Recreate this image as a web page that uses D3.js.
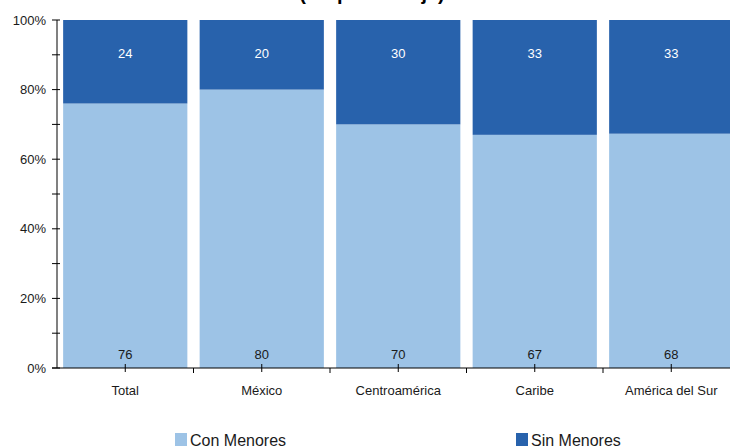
<!DOCTYPE html>
<html><head><meta charset="utf-8">
<script src="https://cdn.jsdelivr.net/npm/d3@7"></script>
<style>body{margin:0;background:#fff}svg{display:block;font-family:"Liberation Sans",Arial,sans-serif}</style>
</head><body>
<svg id="c" width="730" height="446"></svg>
<script>
const categories = ["Total","México","Centroamérica","Caribe","América del Sur"];
const conMenores = [76,80,70,67,68];
const sinMenores = [24,20,30,33,33];
const seriesNames = ["Con Menores","Sin Menores"];
const colors = ["#9dc3e6","#2862ac"];
const yTicks = [0,0.2,0.4,0.6,0.8,1];
const title = "(En porcentaje)";

const svg = d3.select("#c");
const data = categories.map((c,i)=>({cat:c, con:conMenores[i], sin:sinMenores[i]}));
const stack = d3.stack().keys(["con","sin"]).offset(d3.stackOffsetExpand);
const layers = stack(data);

const x = d3.scaleBand().domain(categories).range([57, 739.5]).paddingInner(0.09).paddingOuter(0.045);
const y = d3.scaleLinear().domain([0,1]).range([368,20]);

svg.append("text").attr("x",372).attr("y",0).attr("text-anchor","middle")
  .attr("font-size",20).attr("font-weight","bold").text(title);

layers.forEach((layer,li)=>{
  svg.append("g").selectAll("rect").data(layer).join("rect")
    .attr("x",d=>x(d.data.cat)).attr("width",x.bandwidth())
    .attr("y",d=>y(d[1])).attr("height",d=>y(d[0])-y(d[1]))
    .attr("fill",colors[li]);
});

// labels
svg.append("g").selectAll("text").data(layers[0]).join("text")
  .attr("x",d=>x(d.data.cat)+x.bandwidth()/2).attr("y",y(0)-9)
  .attr("text-anchor","middle").attr("font-size",13).attr("fill","#1a1a1a")
  .text(d=>d.data.con);
svg.append("g").selectAll("text").data(layers[1]).join("text")
  .attr("x",d=>x(d.data.cat)+x.bandwidth()/2).attr("y",y(1)+38)
  .attr("text-anchor","middle").attr("font-size",13).attr("fill","#ffffff")
  .text(d=>d.data.sin);

// y axis
const ya = svg.append("g");
ya.append("line").attr("x1",57).attr("x2",57).attr("y1",y(1)).attr("y2",y(0))
  .attr("stroke","#808080").attr("stroke-width",2);
const allTicks = d3.range(0,1.0001,0.1);
ya.selectAll("line.t").data(allTicks).join("line").attr("class","t")
  .attr("x1",52).attr("x2",60).attr("y1",d=>y(d)).attr("y2",d=>y(d))
  .attr("stroke","#000").attr("stroke-width",1);
ya.selectAll("text").data(yTicks).join("text")
  .attr("x",46).attr("y",d=>y(d)+4.5).attr("text-anchor","end")
  .attr("font-size",13).attr("fill","#1a1a1a").text(d3.format(".0%"));

// x axis
const xa = svg.append("g");
xa.append("line").attr("x1",52).attr("x2",730).attr("y1",368).attr("y2",368)
  .attr("stroke","#000").attr("stroke-width",1);
xa.selectAll("line.c").data(categories).join("line").attr("class","c")
  .attr("x1",d=>x(d)+x.bandwidth()/2).attr("x2",d=>x(d)+x.bandwidth()/2)
  .attr("y1",364).attr("y2",372).attr("stroke","#000");
xa.selectAll("line.b").data(categories.slice(1)).join("line").attr("class","b")
  .attr("x1",d=>x(d)-x.step()*x.paddingInner()/2).attr("x2",d=>x(d)-x.step()*x.paddingInner()/2)
  .attr("y1",368).attr("y2",373).attr("stroke","#000");
xa.selectAll("text").data(categories).join("text")
  .attr("x",d=>x(d)+x.bandwidth()/2).attr("y",395)
  .attr("text-anchor","middle").attr("font-size",13).attr("fill","#1a1a1a").text(d=>d);

// legend
const legX = [175,516];
const lg = svg.append("g");
seriesNames.forEach((n,i)=>{
  lg.append("rect").attr("x",legX[i]).attr("y",433).attr("width",12).attr("height",13).attr("fill",colors[i]);
  lg.append("text").attr("x",legX[i]+15).attr("y",446).attr("font-size",16).attr("fill","#1a1a1a").text(n);
});
</script>
</body></html>
